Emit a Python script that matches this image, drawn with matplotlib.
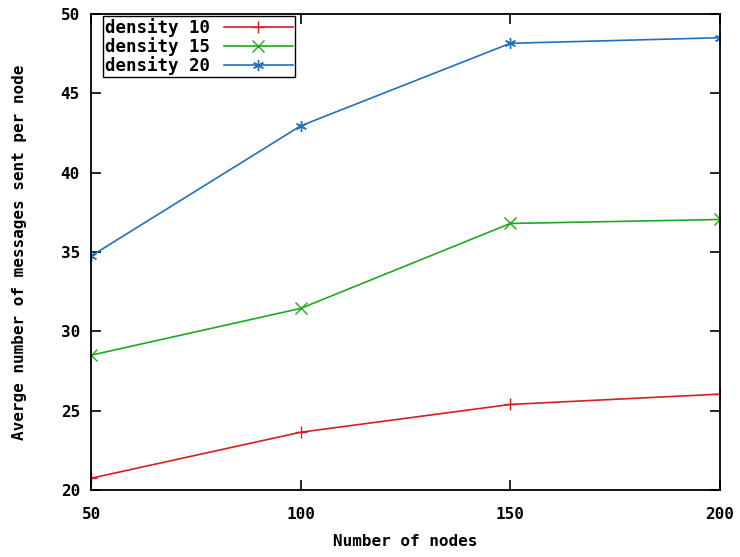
import numpy as np
import matplotlib
matplotlib.use("Agg")
import matplotlib.pyplot as plt

# values
nodes = [50, 100, 150, 200]
density10 = [20.75, 23.65, 25.4, 26.05]
density15 = [28.5, 31.45, 36.8, 37.05]
density20 = [34.75, 42.95, 48.15, 48.5]
seriesNames = ["density 10", "density 15", "density 20"]
yTicks = [20, 25, 30, 35, 40, 45, 50]

plt.rcParams['font.family'] = ['DejaVu Sans Mono']
plt.rcParams['font.weight'] = 'bold'

fig = plt.figure(figsize=(7.4, 5.57), dpi=100)
ax = fig.add_axes([0.123, 0.12, 0.85, 0.855])

styles = [('#d42020', '+'), ('#20a820', 'x'), ('#2070c0', (6, 2, 0))]
for vals, name, (col, mk) in zip([density10, density15, density20], seriesNames, styles):
    ax.plot(nodes, vals, color=col, marker=mk, markersize=8, markeredgewidth=1.0,
            linewidth=1.2, label=name)

ax.set_xlim(50, 200)
ax.set_ylim(20, 50)
ax.set_xticks(nodes)
ax.set_yticks(yTicks)
ax.tick_params(direction='in', top=True, right=True, length=7, width=1.2,
               labelsize=11.5, pad=8)
ax.tick_params(axis='x', pad=12)
for lbl in ax.get_xticklabels() + ax.get_yticklabels():
    lbl.set_fontweight('bold')
for s in ax.spines.values():
    s.set_linewidth(1.3)

ax.set_xlabel("Number of nodes", fontsize=11.5, fontweight='bold', labelpad=9)
ax.set_ylabel("Averge number of messages sent per node", fontsize=11.5,
              fontweight='bold', labelpad=24)

leg = ax.legend(loc='upper left', bbox_to_anchor=(0.019, 0.995), markerfirst=False,
                fancybox=False, framealpha=1, edgecolor='black', fontsize=12.5,
                handlelength=4.0, borderaxespad=0.0, borderpad=0.1,
                labelspacing=0.0, handletextpad=0.8)
leg.get_frame().set_linewidth(1.0)
for t in leg.get_texts():
    t.set_fontweight('bold')

fig.savefig("out.png", dpi=100)
